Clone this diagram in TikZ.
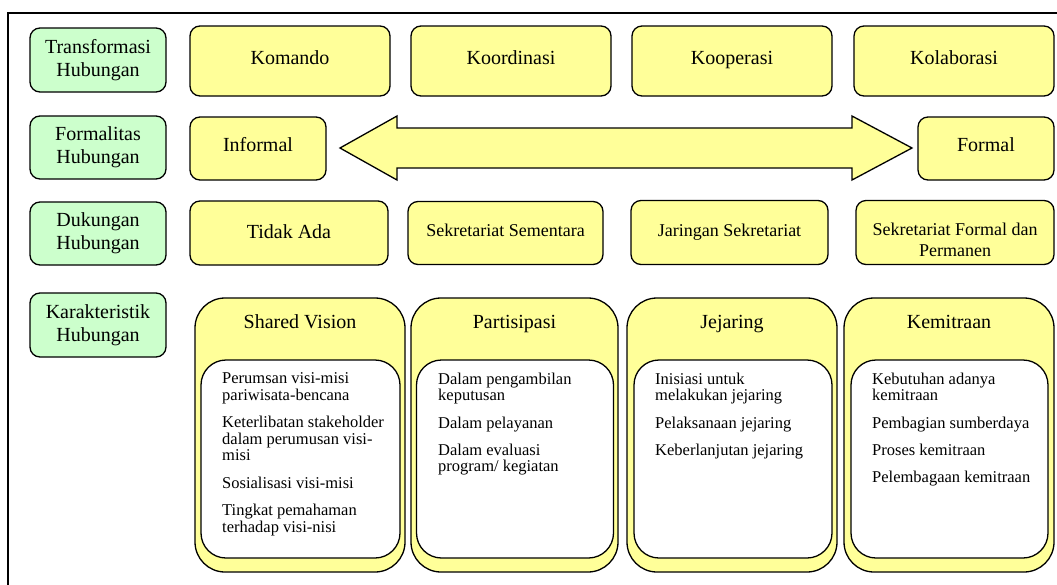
\documentclass[tikz,border=0pt]{standalone}
\usepackage{fontspec}
\setmainfont{Liberation Serif}
\definecolor{hyellow}{HTML}{FFFF99}
\definecolor{hgreen}{HTML}{CCFFCC}
\begin{document}
\begin{tikzpicture}[x=1pt,y=-1pt,
  frameline/.style={line width=1.3pt},
  boxbase/.style={draw, line width=1.3pt, align=center, inner sep=0pt},
  lbl/.style={boxbase, rounded corners=10pt, fill=hgreen, minimum width=136pt, font=\fontsize{20}{23}\selectfont},
  cell/.style={boxbase, rounded corners=10pt, fill=hyellow, font=\fontsize{20}{23}\selectfont},
  bigtxt/.style={anchor=base, inner sep=0pt, font=\fontsize{20}{23}\selectfont},
  smalltxt/.style={anchor=base, inner sep=0pt, font=\fontsize{18}{20}\selectfont},
  outergrp/.style={boxbase, rounded corners=30pt, fill=hyellow, minimum width=210pt, minimum height=274pt},
  innergrp/.style={boxbase, rounded corners=25pt, fill=white, minimum width=199pt, minimum height=198pt},
  itemtxt/.style={anchor=north west, inner sep=0pt, align=left, font=\fontsize{16.5}{16.7}\selectfont},
  arrowshape/.style={draw, line width=1.3pt, fill=hyellow, line join=miter}
]
\useasboundingbox (0,0) rectangle (1057,584);

% outer frame
\draw[frameline] (8,590) -- (8,13) -- (1060,13);

% row headers
\node[lbl, minimum height=64pt] (hTrans) at (98,60) {Transformasi\\Hubungan};
\node[lbl, minimum height=63pt] (hForm) at (98,147.5) {Formalitas\\Hubungan};
\node[lbl, minimum height=63pt] (hDuk) at (98,233.5) {Dukungan\\Hubungan};
\node[lbl, minimum height=64pt] (hKar) at (98,325) {Karakteristik\\Hubungan};

% row 1: transformasi
\node[cell, minimum width=200pt, minimum height=70pt] (komando) at (290,61) {};
\node[bigtxt] (tKomando) at (290,64) {Komando};
\node[cell, minimum width=200pt, minimum height=70pt] (koordinasi) at (511,61) {};
\node[bigtxt] (tKoordinasi) at (511,64) {Koordinasi};
\node[cell, minimum width=200pt, minimum height=70pt] (kooperasi) at (732,61) {};
\node[bigtxt] (tKooperasi) at (732,64) {Kooperasi};
\node[cell, minimum width=200pt, minimum height=70pt] (kolaborasi) at (954,61) {};
\node[bigtxt] (tKolaborasi) at (954,64) {Kolaborasi};

% row 2: formalitas
\node[cell, minimum width=136pt, minimum height=63pt] (informal) at (258,148.5) {};
\node[bigtxt] (tInformal) at (258,151) {Informal};
\node[cell, minimum width=136pt, minimum height=63pt] (formal) at (986,148.5) {};
\node[bigtxt] (tFormal) at (986,151) {Formal};
\draw[arrowshape] (340,148) -- (397,116) -- (397,128) -- (852,128) -- (852,116)
  -- (912,148) -- (852,180) -- (852,168) -- (397,168) -- (397,180) -- cycle;

% row 3: dukungan
\node[cell, minimum width=198pt, minimum height=64pt] (tidakada) at (289,233) {};
\node[bigtxt] (tTidak) at (289,238) {Tidak Ada};
\node[cell, minimum width=195pt, minimum height=63pt] (sementara) at (505.5,233) {};
\node[smalltxt] (tSementara) at (505.5,236) {Sekretariat Sementara};
\node[cell, minimum width=197pt, minimum height=64pt] (jaringan) at (729.5,232.5) {};
\node[smalltxt] (tJaringan) at (729.5,236) {Jaringan Sekretariat};
\node[cell, minimum width=198pt, minimum height=64pt] (permanen) at (955,232.5) {};
\node[smalltxt] (tPermanenA) at (955,235) {Sekretariat Formal dan};
\node[smalltxt] (tPermanenB) at (955,256) {Permanen};

% row 4: karakteristik groups
\node[outergrp] (gVision) at (300,435) {};
\node[innergrp] (iVision) at (300.5,459) {};
\node[bigtxt] (tVision) at (300,328) {Shared Vision};
\node[itemtxt] (lVision) at (222,372.5) {Perumsan visi-misi\\pariwisata-bencana\\[10.5pt]Keterlibatan stakeholder\\dalam perumusan visi-\\misi\\[10.5pt]Sosialisasi visi-misi\\[10.5pt]Tingkat pemahaman\\terhadap visi-nisi};

\node[outergrp, minimum width=207pt] (gPart) at (514.5,435) {};
\node[innergrp, minimum width=197pt] (iPart) at (515,459) {};
\node[bigtxt] (tPart) at (514.5,328) {Partisipasi};
\node[itemtxt] (lPart) at (438,372.5) {Dalam pengambilan\\keputusan\\[10.5pt]Dalam pelayanan\\[10.5pt]Dalam evaluasi\\program/ kegiatan};

\node[outergrp] (gJej) at (732,435) {};
\node[innergrp, minimum width=198pt] (iJej) at (733,459) {};
\node[bigtxt] (tJej) at (732,328) {Jejaring};
\node[itemtxt] (lJej) at (655,372.5) {Inisiasi untuk\\melakukan jejaring\\[10.5pt]Pelaksanaan jejaring\\[10.5pt]Keberlanjutan jejaring};

\node[outergrp] (gKem) at (949,435) {};
\node[innergrp, minimum width=197pt] (iKem) at (949.5,459) {};
\node[bigtxt] (tKem) at (949,328) {Kemitraan};
\node[itemtxt] (lKem) at (872,372.5) {Kebutuhan adanya\\kemitraan\\[10.5pt]Pembagian sumberdaya\\[10.5pt]Proses kemitraan\\[10.5pt]Pelembagaan kemitraan};
\end{tikzpicture}
\end{document}
